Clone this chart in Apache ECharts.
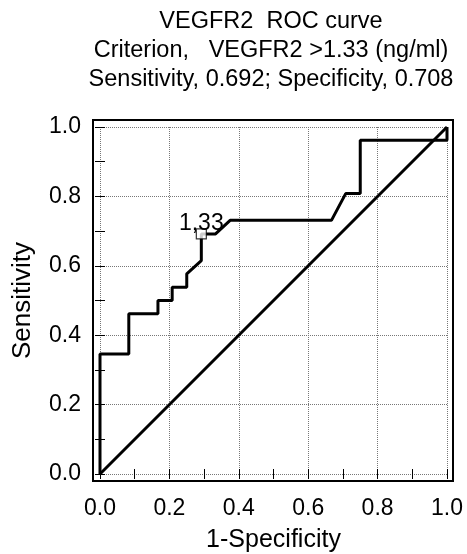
<!DOCTYPE html>
<html>
<head>
<meta charset="utf-8">
<script src="https://cdn.jsdelivr.net/npm/echarts@6/dist/echarts.min.js"></script>
<style>html,body{margin:0;padding:0;background:#fff;}#c{width:467px;height:554px;}</style>
</head>
<body>
<div id="c"></div>
<script>
// ---- data ----
const titleLines = ["VEGFR2  ROC curve", "Criterion,   VEGFR2 >1.33 (ng/ml)", "Sensitivity, 0.692; Specificity, 0.708"];
const xAxisName = "1-Specificity";
const yAxisName = "Sensitivity";
const rocFpr  = [0, 0, 0.083, 0.083, 0.167, 0.167, 0.208, 0.208, 0.25, 0.25, 0.292, 0.292, 0.333, 0.375, 0.667, 0.708, 0.75, 0.75, 1, 1];
const rocSens = [0, 0.346, 0.346, 0.462, 0.462, 0.5, 0.5, 0.538, 0.538, 0.577, 0.615, 0.692, 0.692, 0.731, 0.731, 0.808, 0.808, 0.962, 0.962, 1];
const diagX = [0, 1];
const diagY = [0, 1];
const cutoffX = [0.292];
const cutoffY = [0.692];
const cutoffLabel = "1,33";

const FONT = "'Liberation Sans', Arial, sans-serif";
const chart = echarts.init(document.getElementById('c'), null, {renderer: 'canvas'});
const pairs = (xs, ys) => xs.map((x, i) => [x, ys[i]]);

const axisCommon = {
  type: 'value', min: 0, max: 1, interval: 0.2,
  axisLine: {show: false},
  axisTick: {show: true, inside: true, length: 5, lineStyle: {color: '#000', width: 1}},
  minorTick: {show: true, splitNumber: 2, length: 5, lineStyle: {color: '#000', width: 1}},
};

chart.setOption({
  animation: false,
  backgroundColor: '#fff',
  graphic: titleLines.map((t, i) => ({
    type: 'text', x: 271, y: [22, 51, 80][i],
    style: {text: t, font: `23.5px ${FONT}`, fill: '#000', textAlign: 'center', textVerticalAlign: 'middle'}
  })),
  grid: [
    {left: 100, top: 127, width: 347, height: 347, show: false, containLabel: false, outerBoundsMode: 'none'},
    {left: 93, top: 120, width: 360, height: 361, show: true, borderColor: '#000', borderWidth: 2, backgroundColor: 'transparent', z: 5, containLabel: false, outerBoundsMode: 'none'}
  ],
  xAxis: [
    Object.assign({}, axisCommon, {
      gridIndex: 0, position: 'bottom', offset: 7,
      name: xAxisName, nameLocation: 'middle', nameGap: 47,
      nameTextStyle: {fontFamily: FONT, fontSize: 25, color: '#000'},
      axisLabel: {fontFamily: FONT, fontSize: 23, color: '#000', margin: 16, formatter: v => v.toFixed(1)},
      splitLine: {show: true, lineStyle: {color: '#777', type: [1, 1], width: 1}}
    }),
    Object.assign({}, axisCommon, {
      gridIndex: 0, position: 'top', offset: 7,
      axisLabel: {show: false}, splitLine: {show: false}
    }),
    {type: 'value', gridIndex: 1, show: false, min: 0, max: 1, splitLine: {show: false}}
  ],
  yAxis: [
    Object.assign({}, axisCommon, {
      gridIndex: 0, position: 'left', offset: 7,
      name: yAxisName, nameLocation: 'middle', nameGap: 57,
      nameTextStyle: {fontFamily: FONT, fontSize: 26, color: '#000'},
      axisLabel: {fontFamily: FONT, fontSize: 23, color: '#000', margin: 12, formatter: v => v.toFixed(1)},
      splitLine: {show: true, lineStyle: {color: '#777', type: [1, 1], width: 1}}
    }),
    Object.assign({}, axisCommon, {
      gridIndex: 0, position: 'right', offset: 7,
      axisLabel: {show: false}, splitLine: {show: false}
    }),
    {type: 'value', gridIndex: 1, show: false, min: 0, max: 1, splitLine: {show: false}}
  ],
  series: [
    {
      type: 'line', xAxisIndex: 0, yAxisIndex: 0, data: pairs(diagX, diagY),
      showSymbol: false, lineStyle: {color: '#000', width: 3}, z: 3
    },
    {
      type: 'line', xAxisIndex: 0, yAxisIndex: 0, data: pairs(rocFpr, rocSens),
      showSymbol: false, lineStyle: {color: '#000', width: 3}, z: 3
    },
    {
      type: 'scatter', xAxisIndex: 0, yAxisIndex: 0, data: pairs(cutoffX, cutoffY),
      symbol: 'rect', symbolSize: 10,
      itemStyle: {color: '#fff', borderColor: '#000', borderWidth: 1.2},
      label: {show: true, formatter: () => cutoffLabel, position: 'top', distance: 0, offset: [0, 7],
        fontFamily: FONT, fontSize: 23, color: '#000', textBorderWidth: 0, opacity: 1},
      z: 4
    }
  ]
});
</script>
</body>
</html>
